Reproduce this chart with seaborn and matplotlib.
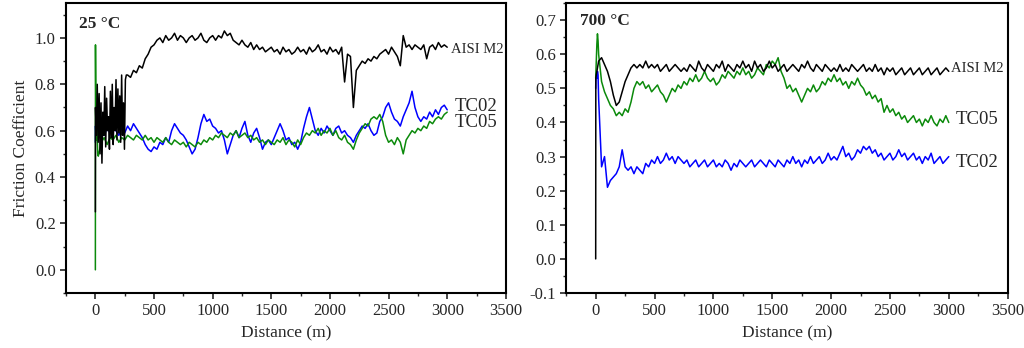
import seaborn as sns
import pandas as pd
import numpy as np
import matplotlib.pyplot as plt
from matplotlib.ticker import MultipleLocator

# sampling grid (m) after the start-up transient
grid = np.arange(25, 3001, 25)
head = [0, 1, 5, 10, 15, 20]

# ---- 25 °C ----
# AISI M2 has a long, strongly oscillating run-in; sampled more finely
m2_25_head_x = [0, 1, 8, 16, 24, 32, 40, 48, 56, 64,
                72, 80, 88, 96, 104, 112, 120, 128, 136, 144,
                152, 160, 168, 176, 184, 192, 200, 208, 216, 224,
                232, 240, 248, 256, 264]
m2_25_head = [0.25, 0.70, 0.58, 0.80, 0.55, 0.76, 0.50, 0.72, 0.46, 0.68,
              0.58, 0.79, 0.53, 0.74, 0.60, 0.66, 0.52, 0.77, 0.57, 0.80,
              0.54, 0.70, 0.60, 0.82, 0.56, 0.78, 0.59, 0.75, 0.55, 0.84,
              0.58, 0.72, 0.52, 0.82, 0.84]
m2_25 = [
    0.84, 0.83, 0.86, 0.85, 0.88, 0.87, 0.91, 0.93, 0.96, 0.97,
    0.99, 1.00, 0.98, 1.01, 0.99, 1.00, 1.02, 0.99, 1.01, 1.00,
    0.98, 1.00, 1.01, 0.99, 1.00, 1.02, 0.99, 0.98, 1.00, 1.01,
    0.99, 1.01, 1.00, 1.03, 1.01, 1.02, 0.99, 0.98, 0.97, 0.99,
    0.97, 0.96, 0.98, 0.95, 0.97, 0.95, 0.96, 0.94, 0.95, 0.96,
    0.94, 0.95, 0.93, 0.96, 0.94, 0.95, 0.93, 0.94, 0.96, 0.94,
    0.95, 0.93, 0.96, 0.94, 0.95, 0.97, 0.94, 0.95, 0.93, 0.96,
    0.94, 0.95, 0.93, 0.96, 0.81, 0.93, 0.92, 0.70, 0.86, 0.88,
    0.90, 0.89, 0.91, 0.90, 0.92, 0.91, 0.93, 0.94, 0.95, 0.93,
    0.96, 0.94, 0.92, 0.88, 1.01, 0.96, 0.97, 0.95, 0.97, 0.96,
    0.95, 0.97, 0.91, 0.96, 0.97, 0.95, 0.98, 0.96, 0.97, 0.96,
]
tc02_25_head = [0.55, 0.62, 0.58, 0.61, 0.59, 0.62]
tc02_25 = [
    0.60, 0.62, 0.58, 0.61, 0.59, 0.62, 0.60, 0.58, 0.61, 0.59,
    0.62, 0.60, 0.63, 0.61, 0.59, 0.57, 0.54, 0.52, 0.51, 0.53,
    0.52, 0.55, 0.54, 0.57, 0.55, 0.60, 0.63, 0.61, 0.59, 0.58,
    0.56, 0.53, 0.50, 0.52, 0.57, 0.63, 0.67, 0.64, 0.65, 0.62,
    0.61, 0.59, 0.60, 0.56, 0.50, 0.54, 0.58, 0.60, 0.57, 0.61,
    0.64, 0.58, 0.55, 0.59, 0.61, 0.57, 0.52, 0.55, 0.56, 0.54,
    0.57, 0.60, 0.63, 0.60, 0.56, 0.57, 0.54, 0.55, 0.52, 0.55,
    0.61, 0.66, 0.70, 0.65, 0.60, 0.58, 0.61, 0.59, 0.62, 0.60,
    0.58, 0.61, 0.62, 0.59, 0.60, 0.58, 0.57, 0.55, 0.58, 0.60,
    0.62, 0.61, 0.63, 0.60, 0.58, 0.59, 0.64, 0.66, 0.70, 0.72,
    0.68, 0.65, 0.64, 0.62, 0.66, 0.69, 0.72, 0.77, 0.70, 0.66,
    0.64, 0.66, 0.65, 0.68, 0.66, 0.69, 0.67, 0.70, 0.71, 0.69,
]
tc05_25_head = [0.0, 0.97, 0.62, 0.56, 0.60, 0.50]
tc05_25 = [
    0.49, 0.55, 0.57, 0.54, 0.57, 0.56, 0.58, 0.55, 0.57, 0.56,
    0.58, 0.57, 0.56, 0.58, 0.57, 0.56, 0.58, 0.56, 0.57, 0.55,
    0.57, 0.56, 0.55, 0.57, 0.55, 0.54, 0.56, 0.55, 0.54, 0.55,
    0.53, 0.55, 0.54, 0.53, 0.55, 0.54, 0.56, 0.55, 0.57, 0.56,
    0.58, 0.57, 0.59, 0.58, 0.57, 0.59, 0.58, 0.60, 0.57, 0.58,
    0.59, 0.57, 0.58, 0.56, 0.57, 0.55, 0.56, 0.54, 0.56, 0.55,
    0.54, 0.56, 0.55, 0.57, 0.54, 0.56, 0.55, 0.53, 0.56, 0.54,
    0.57, 0.59, 0.58, 0.60, 0.59, 0.61, 0.58, 0.60, 0.59, 0.61,
    0.58, 0.60, 0.57, 0.56, 0.58, 0.55, 0.54, 0.52, 0.56, 0.59,
    0.61, 0.63, 0.62, 0.65, 0.66, 0.65, 0.67, 0.64, 0.58, 0.55,
    0.56, 0.54, 0.57, 0.55, 0.50, 0.56, 0.58, 0.60, 0.59, 0.61,
    0.60, 0.62, 0.61, 0.64, 0.63, 0.65, 0.66, 0.65, 0.67, 0.68,
]

# ---- 700 °C ----
m2_700_head = [0.0, 0.53, 0.54, 0.55, 0.56, 0.57]
m2_700 = [
    0.58, 0.59, 0.57, 0.55, 0.52, 0.48, 0.45, 0.46, 0.49, 0.52,
    0.54, 0.56, 0.57, 0.56, 0.57, 0.56, 0.58, 0.56, 0.57, 0.56,
    0.57, 0.55, 0.56, 0.57, 0.55, 0.56, 0.57, 0.56, 0.55, 0.56,
    0.55, 0.57, 0.56, 0.55, 0.58, 0.56, 0.55, 0.57, 0.56, 0.55,
    0.57, 0.56, 0.58, 0.55, 0.57, 0.56, 0.55, 0.57, 0.56, 0.58,
    0.56, 0.57, 0.55, 0.58, 0.56, 0.57, 0.55, 0.56, 0.58, 0.56,
    0.57, 0.55, 0.56, 0.57, 0.55, 0.56, 0.57, 0.56, 0.55, 0.57,
    0.56, 0.58, 0.56, 0.55, 0.57, 0.56, 0.55, 0.57, 0.56, 0.55,
    0.56, 0.55, 0.57, 0.55, 0.56, 0.55, 0.57, 0.56, 0.55, 0.56,
    0.57, 0.55, 0.56, 0.55, 0.57, 0.55, 0.56, 0.54, 0.56, 0.55,
    0.56, 0.54, 0.55, 0.56, 0.54, 0.55, 0.56, 0.54, 0.55, 0.56,
    0.54, 0.55, 0.56, 0.54, 0.55, 0.56, 0.54, 0.55, 0.56, 0.55,
]
tc05_700_head = [0.53, 0.54, 0.58, 0.63, 0.66, 0.64]
tc05_700 = [
    0.60, 0.52, 0.49, 0.47, 0.45, 0.44, 0.42, 0.43, 0.42, 0.44,
    0.43, 0.46, 0.50, 0.52, 0.51, 0.52, 0.50, 0.51, 0.49, 0.50,
    0.51, 0.49, 0.48, 0.46, 0.48, 0.50, 0.49, 0.51, 0.50, 0.52,
    0.51, 0.53, 0.52, 0.54, 0.52, 0.53, 0.55, 0.53, 0.52, 0.53,
    0.51, 0.52, 0.54, 0.53, 0.55, 0.54, 0.53, 0.55, 0.54, 0.56,
    0.54, 0.55, 0.53, 0.54, 0.56, 0.55, 0.54, 0.57, 0.56, 0.58,
    0.57, 0.59, 0.55, 0.53, 0.50, 0.51, 0.49, 0.50, 0.48, 0.46,
    0.48, 0.50, 0.49, 0.51, 0.49, 0.50, 0.52, 0.51, 0.53, 0.52,
    0.54, 0.52, 0.53, 0.51, 0.52, 0.50, 0.52, 0.51, 0.53, 0.51,
    0.50, 0.48, 0.49, 0.47, 0.48, 0.46, 0.47, 0.43, 0.45, 0.43,
    0.44, 0.42, 0.43, 0.41, 0.42, 0.40, 0.41, 0.42, 0.40, 0.41,
    0.39, 0.41, 0.40, 0.42, 0.40, 0.39, 0.41, 0.40, 0.42, 0.40,
]
tc02_700_head = [0.50, 0.52, 0.54, 0.53, 0.55, 0.54]
tc02_700 = [
    0.47, 0.27, 0.30, 0.21, 0.23, 0.24, 0.25, 0.27, 0.32, 0.27,
    0.26, 0.27, 0.25, 0.27, 0.26, 0.25, 0.28, 0.27, 0.29, 0.28,
    0.30, 0.28, 0.29, 0.31, 0.29, 0.30, 0.28, 0.30, 0.29, 0.28,
    0.29, 0.27, 0.28, 0.29, 0.27, 0.28, 0.29, 0.27, 0.28, 0.29,
    0.27, 0.28, 0.27, 0.29, 0.28, 0.26, 0.28, 0.27, 0.29, 0.28,
    0.27, 0.28, 0.29, 0.27, 0.28, 0.29, 0.28, 0.27, 0.29, 0.28,
    0.27, 0.29, 0.28, 0.27, 0.29, 0.28, 0.30, 0.28, 0.29, 0.27,
    0.29, 0.28, 0.30, 0.28, 0.29, 0.30, 0.28, 0.29, 0.31, 0.29,
    0.30, 0.29, 0.31, 0.33, 0.30, 0.31, 0.29, 0.30, 0.32, 0.31,
    0.33, 0.32, 0.33, 0.31, 0.32, 0.30, 0.31, 0.29, 0.30, 0.31,
    0.29, 0.30, 0.32, 0.30, 0.31, 0.29, 0.30, 0.31, 0.29, 0.30,
    0.28, 0.30, 0.29, 0.31, 0.28, 0.29, 0.30, 0.28, 0.29, 0.30,
]

BLACK, BLUE, GREEN = '#000000', '#0000ff', '#0b8a0b'

sns.set_style('ticks')
plt.rcParams['font.family'] = ['Liberation Serif', 'DejaVu Serif']
plt.rcParams['axes.unicode_minus'] = False


def series(hx, hv, vals):
    rest = grid[grid > hx[-1]]
    return pd.DataFrame({'Distance': list(hx) + list(rest), 'mu': list(hv) + list(vals)})


fig = plt.figure(figsize=(10.24, 3.48), dpi=100)
ax1 = fig.add_axes([0.0645, 0.158, 0.4295, 0.833])
ax2 = fig.add_axes([0.553, 0.158, 0.431, 0.833])

# left panel
for hx, hv, v, c in [(head, tc02_25_head, tc02_25, BLUE),
                     (head, tc05_25_head, tc05_25, GREEN),
                     (m2_25_head_x, m2_25_head, m2_25, BLACK)]:
    sns.lineplot(data=series(hx, hv, v), x='Distance', y='mu', ax=ax1, color=c,
                 lw=1.1, sort=False, estimator=None)
ax1.set_xlim(-250, 3500)
ax1.set_ylim(-0.1, 1.15)
ax1.yaxis.set_major_locator(MultipleLocator(0.2))
ax1.yaxis.set_minor_locator(MultipleLocator(0.1))
ax1.set_ylabel('Friction Coefficient', fontsize=12.5)
ax1.text(0.03, 0.955, '25 °C', transform=ax1.transAxes, fontsize=12.5,
         fontweight='bold', va='top')
ax1.text(3030, 0.95, 'AISI M2', fontsize=10.5, va='center')
ax1.text(3060, 0.705, 'TC02', fontsize=13.5, va='center')
ax1.text(3060, 0.635, 'TC05', fontsize=13.5, va='center')

# right panel
for hx, hv, v, c in [(head, tc02_700_head, tc02_700, BLUE),
                     (head, tc05_700_head, tc05_700, GREEN),
                     (head, m2_700_head, m2_700, BLACK)]:
    sns.lineplot(data=series(hx, hv, v), x='Distance', y='mu', ax=ax2, color=c,
                 lw=1.1, sort=False, estimator=None)
ax2.set_xlim(-250, 3500)
ax2.set_ylim(-0.1, 0.75)
ax2.yaxis.set_major_locator(MultipleLocator(0.1))
ax2.yaxis.set_minor_locator(MultipleLocator(0.05))
ax2.set_ylabel('')
ax2.text(0.03, 0.965, '700 °C', transform=ax2.transAxes, fontsize=12.5,
         fontweight='bold', va='top')
ax2.text(3020, 0.558, 'AISI M2', fontsize=10.5, va='center')
ax2.text(3060, 0.41, 'TC05', fontsize=13.5, va='center')
ax2.text(3060, 0.283, 'TC02', fontsize=13.5, va='center')

for ax in (ax1, ax2):
    ax.xaxis.set_major_locator(MultipleLocator(500))
    ax.xaxis.set_minor_locator(MultipleLocator(250))
    ax.set_xlabel('Distance (m)', fontsize=12.5)
    ax.tick_params(which='major', length=4, width=1.2, labelsize=12, direction='out')
    ax.tick_params(which='minor', length=2.5, width=1.0, direction='out')
    for s in ax.spines.values():
        s.set_visible(True)
        s.set_linewidth(1.5)
        s.set_color('black')

fig.savefig('out.png', dpi=100)
